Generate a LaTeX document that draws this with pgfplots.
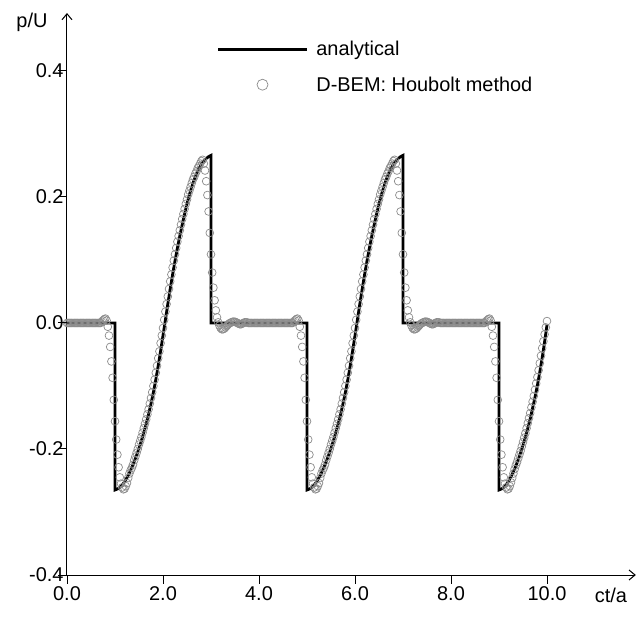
\documentclass[border=0pt]{standalone}
\usepackage{fontspec}
\setmainfont{Liberation Sans}
\usepackage{pgfplots}
\pgfplotsset{compat=1.18}
\usepackage{pgfplotstable}
\usetikzlibrary{arrows.meta}

\pgfplotsset{
  linelegend/.style={legend image code/.code={\path[draw=none,fill=none] (0bp,0bp) rectangle (89bp,12bp); \draw[##1] (0bp,0.5bp) -- (89bp,0.5bp);}},
  circlegend/.style={legend image code/.code={\path[draw=none,fill=none] (0bp,0bp) rectangle (89bp,12bp); \draw[##1, mark size=5.5bp] plot coordinates {(44.5bp,1.5bp)};}},
}

\pgfplotstableread{
t v
0 0
0.025 0
0.05 0
0.075 0
0.1 0
0.125 0
0.15 0
0.175 0
0.2 0
0.225 0
0.25 0
0.275 0
0.3 0
0.325 0
0.35 0
0.375 0
0.4 0
0.425 0
0.45 0
0.475 0
0.5 0
0.525 0
0.55 0
0.575 0
0.6 0
0.625 0
0.65 0
0.675 0
0.7 0
0.725 0.002
0.75 0.004
0.775 0.006
0.8 0.007
0.825 0.004
0.85 -0.006
0.875 -0.020
0.9 -0.038
0.925 -0.061
0.95 -0.087
0.975 -0.122
1.0 -0.156
1.025 -0.185
1.05 -0.209
1.075 -0.229
1.1 -0.245
1.125 -0.255
1.15 -0.261
1.175 -0.264
1.2 -0.263
1.225 -0.259
1.25 -0.254
1.275 -0.246
1.3 -0.239
1.325 -0.234
1.35 -0.230
1.375 -0.225
1.4 -0.218
1.425 -0.212
1.45 -0.206
1.475 -0.200
1.5 -0.193
1.525 -0.187
1.55 -0.181
1.575 -0.174
1.6 -0.167
1.625 -0.160
1.65 -0.153
1.675 -0.145
1.7 -0.137
1.725 -0.128
1.75 -0.119
1.775 -0.110
1.8 -0.100
1.825 -0.090
1.85 -0.079
1.875 -0.068
1.9 -0.056
1.925 -0.045
1.95 -0.032
1.975 -0.020
2.0 -0.008
2.025 0.005
2.05 0.018
2.075 0.030
2.1 0.042
2.125 0.054
2.15 0.066
2.175 0.077
2.2 0.088
2.225 0.099
2.25 0.109
2.275 0.119
2.3 0.129
2.325 0.138
2.35 0.147
2.375 0.156
2.4 0.165
2.425 0.173
2.45 0.181
2.475 0.189
2.5 0.196
2.525 0.204
2.55 0.210
2.575 0.216
2.6 0.222
2.625 0.228
2.65 0.232
2.675 0.237
2.7 0.241
2.725 0.246
2.75 0.249
2.775 0.253
2.8 0.257
2.825 0.259
2.85 0.253
2.875 0.242
2.9 0.225
2.925 0.203
2.95 0.177
2.975 0.143
3.0 0.109
3.025 0.080
3.05 0.056
3.075 0.036
3.1 0.020
3.125 0.009
3.15 0.001
3.175 -0.004
3.2 -0.008
3.225 -0.010
3.25 -0.010
3.275 -0.009
3.3 -0.007
3.325 -0.005
3.35 -0.003
3.375 -0.001
3.4 0.000
3.425 0.001
3.45 0.002
3.475 0.002
3.5 0.002
3.525 0.001
3.55 0.000
3.575 -0.001
3.6 -0.002
3.625 -0.002
3.65 -0.001
3.675 0.000
3.7 0.001
3.725 0.001
3.75 0.001
3.775 0.000
3.8 0
3.825 0
3.85 0
3.875 0
3.9 0
3.925 0
3.95 0
3.975 0
4.0 0
4.025 0
4.05 0
4.075 0
4.1 0
4.125 0
4.15 0
4.175 0
4.2 0
4.225 0
4.25 0
4.275 0
4.3 0
4.325 0
4.35 0
4.375 0
4.4 0
4.425 0
4.45 0
4.475 0
4.5 0
4.525 0
4.55 0
4.575 0
4.6 0
4.625 0
4.65 0
4.675 0
4.7 0
4.725 0.002
4.75 0.004
4.775 0.006
4.8 0.007
4.825 0.004
4.85 -0.006
4.875 -0.020
4.9 -0.038
4.925 -0.061
4.95 -0.087
4.975 -0.122
5.0 -0.156
5.025 -0.185
5.05 -0.209
5.075 -0.229
5.1 -0.245
5.125 -0.255
5.15 -0.261
5.175 -0.264
5.2 -0.263
5.225 -0.259
5.25 -0.254
5.275 -0.246
5.3 -0.239
5.325 -0.234
5.35 -0.230
5.375 -0.225
5.4 -0.218
5.425 -0.212
5.45 -0.206
5.475 -0.200
5.5 -0.193
5.525 -0.187
5.55 -0.181
5.575 -0.174
5.6 -0.167
5.625 -0.160
5.65 -0.153
5.675 -0.145
5.7 -0.137
5.725 -0.128
5.75 -0.119
5.775 -0.110
5.8 -0.100
5.825 -0.090
5.85 -0.079
5.875 -0.068
5.9 -0.056
5.925 -0.045
5.95 -0.032
5.975 -0.020
6.0 -0.008
6.025 0.005
6.05 0.018
6.075 0.030
6.1 0.042
6.125 0.054
6.15 0.066
6.175 0.077
6.2 0.088
6.225 0.099
6.25 0.109
6.275 0.119
6.3 0.129
6.325 0.138
6.35 0.147
6.375 0.156
6.4 0.165
6.425 0.173
6.45 0.181
6.475 0.189
6.5 0.196
6.525 0.204
6.55 0.210
6.575 0.216
6.6 0.222
6.625 0.228
6.65 0.232
6.675 0.237
6.7 0.241
6.725 0.246
6.75 0.249
6.775 0.253
6.8 0.257
6.825 0.259
6.85 0.253
6.875 0.242
6.9 0.225
6.925 0.203
6.95 0.177
6.975 0.143
7.0 0.109
7.025 0.080
7.05 0.056
7.075 0.036
7.1 0.020
7.125 0.009
7.15 0.001
7.175 -0.004
7.2 -0.008
7.225 -0.010
7.25 -0.010
7.275 -0.009
7.3 -0.007
7.325 -0.005
7.35 -0.003
7.375 -0.001
7.4 0.000
7.425 0.001
7.45 0.002
7.475 0.002
7.5 0.002
7.525 0.001
7.55 0.000
7.575 -0.001
7.6 -0.002
7.625 -0.002
7.65 -0.001
7.675 0.000
7.7 0.001
7.725 0.001
7.75 0.001
7.775 0.000
7.8 0
7.825 0
7.85 0
7.875 0
7.9 0
7.925 0
7.95 0
7.975 0
8.0 0
8.025 0
8.05 0
8.075 0
8.1 0
8.125 0
8.15 0
8.175 0
8.2 0
8.225 0
8.25 0
8.275 0
8.3 0
8.325 0
8.35 0
8.375 0
8.4 0
8.425 0
8.45 0
8.475 0
8.5 0
8.525 0
8.55 0
8.575 0
8.6 0
8.625 0
8.65 0
8.675 0
8.7 0
8.725 0.002
8.75 0.004
8.775 0.006
8.8 0.007
8.825 0.004
8.85 -0.006
8.875 -0.020
8.9 -0.038
8.925 -0.061
8.95 -0.087
8.975 -0.122
9.0 -0.156
9.025 -0.185
9.05 -0.209
9.075 -0.229
9.1 -0.245
9.125 -0.255
9.15 -0.261
9.175 -0.264
9.2 -0.263
9.225 -0.259
9.25 -0.253
9.275 -0.246
9.3 -0.239
9.325 -0.232
9.35 -0.226
9.375 -0.221
9.4 -0.215
9.425 -0.209
9.45 -0.203
9.475 -0.196
9.5 -0.189
9.525 -0.182
9.55 -0.175
9.575 -0.167
9.6 -0.159
9.625 -0.151
9.65 -0.143
9.675 -0.134
9.7 -0.125
9.725 -0.116
9.75 -0.106
9.775 -0.096
9.8 -0.086
9.825 -0.075
9.85 -0.064
9.875 -0.052
9.9 -0.040
9.925 -0.029
9.95 -0.018
9.975 -0.007
10.0 0.003
}\numdata

\pgfplotstableread{
t v
0 0
1 0
1 -0.265
1.05 -0.2635
1.1 -0.261
1.15 -0.257
1.2 -0.252
1.25 -0.2455
1.3 -0.238
1.35 -0.2295
1.4 -0.220
1.45 -0.210
1.5 -0.199
1.55 -0.187
1.6 -0.174
1.65 -0.160
1.7 -0.145
1.75 -0.128
1.8 -0.110
1.85 -0.090
1.9 -0.068
1.95 -0.0445
2.0 -0.020
2.05 0.005
2.1 0.030
2.15 0.054
2.2 0.077
2.25 0.0985
2.3 0.119
2.35 0.138
2.4 0.156
2.45 0.173
2.5 0.189
2.55 0.2035
2.6 0.216
2.65 0.2275
2.7 0.237
2.75 0.2455
2.8 0.252
2.85 0.257
2.9 0.261
2.95 0.264
3 0.266
3 0
5 0
5 -0.265
5.05 -0.2635
5.1 -0.261
5.15 -0.257
5.2 -0.252
5.25 -0.2455
5.3 -0.238
5.35 -0.2295
5.4 -0.220
5.45 -0.210
5.5 -0.199
5.55 -0.187
5.6 -0.174
5.65 -0.160
5.7 -0.145
5.75 -0.128
5.8 -0.110
5.85 -0.090
5.9 -0.068
5.95 -0.0445
6.0 -0.020
6.05 0.005
6.1 0.030
6.15 0.054
6.2 0.077
6.25 0.0985
6.3 0.119
6.35 0.138
6.4 0.156
6.45 0.173
6.5 0.189
6.55 0.2035
6.6 0.216
6.65 0.2275
6.7 0.237
6.75 0.2455
6.8 0.252
6.85 0.257
6.9 0.261
6.95 0.264
7 0.266
7 0
9 0
9 -0.265
9.05 -0.2635
9.1 -0.261
9.15 -0.2565
9.2 -0.251
9.25 -0.244
9.3 -0.236
9.35 -0.227
9.4 -0.217
9.45 -0.206
9.5 -0.194
9.55 -0.181
9.6 -0.167
9.65 -0.152
9.7 -0.135
9.75 -0.118
9.8 -0.099
9.85 -0.078
9.9 -0.055
9.95 -0.030
10 -0.003
}\anadata

\begin{document}
\begin{tikzpicture}[font=\fontsize{20}{24}\selectfont]
\begin{axis}[
  scale only axis,
  width=568.8bp, height=562bp,
  xmin=0, xmax=11.85, ymin=-0.4, ymax=0.492,
  axis lines=left,
  axis line style={line width=1bp, black, -{Straight Barb[length=6bp,width=10bp]}},
  xtick={0,2,4,6,8,10},
  xticklabels={\rule{0pt}{22bp}0.0,\rule{0pt}{22bp}2.0,\rule{0pt}{22bp}4.0,\rule{0pt}{22bp}6.0,\rule{0pt}{22bp}8.0,\rule{0pt}{22bp}10.0},
  ytick={-0.4,-0.2,0,0.2,0.4},
  yticklabels={-0.4,-0.2,0.0,0.2,0.4},
  major tick length=0pt,
  xlabel={ct/a}, ylabel={p/U},
  every axis x label/.style={at={(axis cs:11.333,-0.433)}, anchor=center},
  every axis y label/.style={at={(axis cs:-0.333,0.477)}, anchor=east},
  legend cell align=left,
  legend style={draw=none, fill=none, at={(axis cs:3.117,0.452)}, anchor=north west,
    inner sep=0pt, outer sep=0pt, row sep=14bp, column sep=8bp,
    nodes={inner sep=0pt, text height=15bp, text depth=5bp}},
  after end axis/.code={
    \coordinate (tx0) at (axis cs:0,-0.4);
    \coordinate (tx2) at (axis cs:2,-0.4);
    \coordinate (tx4) at (axis cs:4,-0.4);
    \coordinate (tx6) at (axis cs:6,-0.4);
    \coordinate (tx8) at (axis cs:8,-0.4);
    \coordinate (tx10) at (axis cs:10,-0.4);
    \draw[black, line width=1bp]
      (axis cs:0,-0.4) -- ++(-9bp,0bp)
      (axis cs:0,-0.2) -- ++(-9bp,0bp)
      (axis cs:0,0) -- ++(-9bp,0bp)
      (axis cs:0,0.2) -- ++(-9bp,0bp)
      (axis cs:0,0.4) -- ++(-9bp,0bp);
  },
]
\addlegendimage{black, line width=2.8bp, linelegend}
\addlegendentry{analytical}
\addplot[only marks, mark=o, mark size=3.9bp,
  mark options={draw=black!45, line width=0.7bp}, circlegend]
  table[x=t, y=v] {\numdata};
\addlegendentry{D-BEM: Houbolt method}
\addplot[black, line width=2.8bp, forget plot] table[x=t, y=v] {\anadata};
\end{axis}
\draw[black, line width=1bp]
  (tx0) -- ++(0bp,-9bp)
  (tx2) -- ++(0bp,-9bp)
  (tx4) -- ++(0bp,-9bp)
  (tx6) -- ++(0bp,-9bp)
  (tx8) -- ++(0bp,-9bp)
  (tx10) -- ++(0bp,-9bp);
\path (-67bp,-43bp) rectangle (575bp,575bp);
\end{tikzpicture}
\end{document}
